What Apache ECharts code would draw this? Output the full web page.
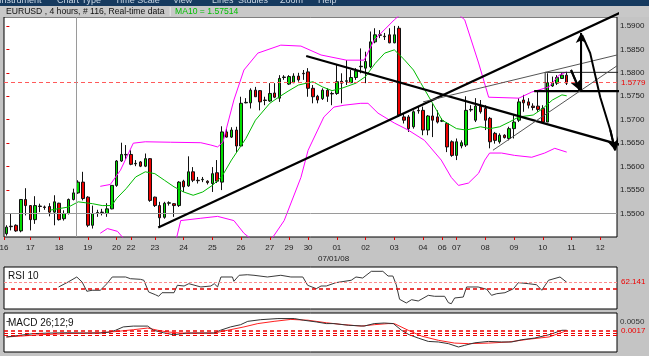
<!DOCTYPE html>
<html><head><meta charset="utf-8">
<script src="https://cdn.jsdelivr.net/npm/echarts@6/dist/echarts.min.js"></script>
<style>html,body{margin:0;padding:0;background:#c4c4c4;overflow:hidden}#c{width:649px;height:356px}</style>
</head><body><div id="c"></div>
<script>
// ---------------- DATA ----------------
const SLOTS = 128; // bar slots shown on the time axis (4-hour bars)
// [open, close, low, high]
const candles = [
[1.5457,1.5471,1.5453,1.5475],[1.5473,1.5472,1.5464,1.5500],[1.5475,1.5463,1.5461,1.5477],[1.5463,1.5530,1.5460,1.5531],
[1.5530,1.5517,1.5496,1.5554],[1.5517,1.5487,1.5464,1.5518],[1.5487,1.5517,1.5478,1.5537],[1.5516,1.5515,1.5503,1.5521],
[1.5514,1.5513,1.5508,1.5517],[1.5515,1.5503,1.5494,1.5522],[1.5503,1.5525,1.5475,1.5539],[1.5522,1.5487,1.5485,1.5523],
[1.5489,1.5500,1.5485,1.5507],[1.5500,1.5530,1.5498,1.5532],[1.5530,1.5544,1.5528,1.5553],[1.5544,1.5567,1.5542,1.5571],
[1.5567,1.5532,1.5528,1.5589],[1.5535,1.5475,1.5471,1.5537],[1.5475,1.5500,1.5468,1.5517],[1.5501,1.5502,1.5493,1.5508],
[1.5502,1.5503,1.5496,1.5510],[1.5500,1.5510,1.5493,1.5522],[1.5510,1.5560,1.5509,1.5560],[1.5560,1.5612,1.5557,1.5614],
[1.5612,1.5626,1.5610,1.5651],[1.5626,1.5625,1.5615,1.5646],[1.5626,1.5605,1.5603,1.5635],[1.5606,1.5607,1.5601,1.5614],
[1.5610,1.5601,1.5599,1.5612],[1.5601,1.5617,1.5599,1.5628],[1.5617,1.5528,1.5525,1.5618],[1.5535,1.5517,1.5514,1.5536],
[1.5517,1.5491,1.5471,1.5525],[1.5492,1.5522,1.5489,1.5525],[1.5522,1.5523,1.5517,1.5526],[1.5521,1.5517,1.5493,1.5522],
[1.5517,1.5567,1.5514,1.5569],[1.5569,1.5557,1.5546,1.5572],[1.5559,1.5589,1.5557,1.5622],[1.5589,1.5571,1.5567,1.5599],
[1.5571,1.5570,1.5564,1.5578],[1.5572,1.5573,1.5567,1.5578],[1.5569,1.5566,1.5562,1.5571],[1.5564,1.5585,1.5546,1.5599],
[1.5587,1.5569,1.5565,1.5614],[1.5567,1.5674,1.5550,1.5686],[1.5674,1.5663,1.5662,1.5681],[1.5663,1.5678,1.5661,1.5684],
[1.5678,1.5644,1.5631,1.5685],[1.5644,1.5735,1.5642,1.5749],[1.5736,1.5737,1.5735,1.5746],[1.5736,1.5763,1.5724,1.5767],
[1.5763,1.5749,1.5749,1.5770],[1.5762,1.5738,1.5720,1.5763],[1.5742,1.5741,1.5731,1.5749],[1.5740,1.5756,1.5738,1.5778],
[1.5757,1.5748,1.5746,1.5778],[1.5746,1.5788,1.5738,1.5795],[1.5790,1.5791,1.5785,1.5795],[1.5776,1.5792,1.5774,1.5795],
[1.5779,1.5793,1.5778,1.5799],[1.5793,1.5785,1.5781,1.5800],[1.5799,1.5798,1.5785,1.5806],[1.5802,1.5767,1.5749,1.5810],
[1.5767,1.5749,1.5735,1.5774],[1.5750,1.5742,1.5735,1.5753],[1.5745,1.5763,1.5742,1.5767],[1.5763,1.5750,1.5738,1.5767],
[1.5756,1.5755,1.5731,1.5760],[1.5756,1.5781,1.5753,1.5817],[1.5782,1.5778,1.5735,1.5799],[1.5782,1.5783,1.5774,1.5827],
[1.5779,1.5790,1.5778,1.5806],[1.5790,1.5804,1.5785,1.5810],[1.5813,1.5814,1.5799,1.5852],[1.5810,1.5824,1.5778,1.5845],
[1.5813,1.5866,1.5810,1.5888],[1.5866,1.5881,1.5863,1.5895],[1.5881,1.5880,1.5874,1.5891],[1.5878,1.5877,1.5870,1.5885],
[1.5881,1.5864,1.5863,1.5895],[1.5864,1.5881,1.5863,1.5900],[1.5895,1.5710,1.5706,1.5900],[1.5706,1.5699,1.5692,1.5713],
[1.5706,1.5681,1.5674,1.5710],[1.5685,1.5717,1.5681,1.5720],[1.5720,1.5719,1.5713,1.5728],[1.5720,1.5678,1.5667,1.5728],
[1.5678,1.5708,1.5667,1.5710],[1.5708,1.5699,1.5663,1.5735],[1.5706,1.5695,1.5692,1.5720],[1.5697,1.5698,1.5695,1.5703],
[1.5692,1.5642,1.5631,1.5695],[1.5653,1.5624,1.5621,1.5656],[1.5624,1.5653,1.5614,1.5660],[1.5644,1.5651,1.5639,1.5656],
[1.5646,1.5720,1.5642,1.5750],[1.5721,1.5722,1.5717,1.5731],[1.5699,1.5729,1.5695,1.5746],[1.5729,1.5717,1.5713,1.5742],
[1.5724,1.5699,1.5678,1.5731],[1.5703,1.5653,1.5639,1.5706],[1.5671,1.5656,1.5649,1.5674],[1.5653,1.5667,1.5649,1.5671],
[1.5667,1.5662,1.5660,1.5669],[1.5660,1.5681,1.5656,1.5685],[1.5681,1.5695,1.5660,1.5710],[1.5699,1.5738,1.5695,1.5746],
[1.5742,1.5736,1.5717,1.5753],[1.5738,1.5731,1.5724,1.5746],[1.5729,1.5726,1.5720,1.5735],[1.5729,1.5722,1.5717,1.5760],
[1.5724,1.5695,1.5695,1.5731],[1.5695,1.5779,1.5695,1.5799],[1.5772,1.5779,1.5770,1.5792],[1.5778,1.5790,1.5774,1.5795],
[1.5788,1.5795,1.5787,1.5800],[1.5795,1.5778,1.5774,1.5802]
];
// [bar, value]
const ma10 = [[9,1.5507],[13,1.5514],[15,1.5525],[18,1.5521],[20,1.5517],[22,1.5517],[23,1.5532],[25,1.5553],[27,1.5578],[29,1.5589],
[31,1.5585],[33,1.5571],[35,1.5557],[37,1.5546],[39,1.5539],[41,1.5546],[43,1.5560],[45,1.5579],[47,1.5614],[50,1.5660],[52,1.5699],
[55,1.5735],[57,1.5749],[59,1.5762],[61,1.5774],[64,1.5781],[66,1.5770],[68,1.5762],[70,1.5767],[73,1.5778],[75,1.5792],[77,1.5820],
[79,1.5842],[81,1.5849],[83,1.5829],[85,1.5806],[87,1.5770],[89,1.5735],[91,1.5699],[94,1.5681],[96,1.5678],[99,1.5685],[101,1.5681],
[103,1.5685],[105,1.5695],[107,1.5706],[110,1.5710],[112,1.5724],[114,1.5742],[116,1.5753],[117,1.5751]];
const bbUpper = [[19.6,1.5558],[21.7,1.5562],[23.8,1.5592],[26.5,1.5650],[29,1.5653],[34.3,1.5652],[40.6,1.5651],[42.7,1.5646],[44.1,1.5642],
[45.2,1.5652],[47.5,1.5742],[49.6,1.5806],[52.5,1.5842],[57.3,1.5859],[61.5,1.5857],[65.7,1.5838],[71,1.5827],[74.7,1.5827],[76.8,1.5870],
[81,1.5913],[84.6,1.5945],[90.8,1.5956],[95.7,1.5913],[98.6,1.5821],[100.7,1.5748],[107,1.5746],[109.7,1.5759],[113.3,1.5770],[115.4,1.5795],[117,1.5802]];
const bbLower = [[19.6,1.5458],[21.1,1.5468],[23.2,1.5462],[24.8,1.5443],[30,1.5432],[35.3,1.5438],[36.4,1.5485],[40.6,1.5490],[44.1,1.5494],
[47.5,1.5485],[49.6,1.5458],[52,1.5438],[55.2,1.5443],[58,1.5485],[61.5,1.5577],[63,1.5635],[65,1.5678],[66.3,1.5706],[68.4,1.5727],
[70.5,1.5731],[74,1.5735],[75.5,1.5735],[77.6,1.5714],[81,1.5693],[83.9,1.5678],[87.3,1.5656],[90.8,1.5614],[92.9,1.5577],[94.4,1.5560],
[96.5,1.5565],[98.6,1.5586],[99.9,1.5614],[100.9,1.5629],[103.4,1.5629],[106.1,1.5624],[109.7,1.5620],[112.4,1.5629],[114.5,1.5639],[117,1.5631]];
const rsi10 = [[10.9,53.8],[12.9,62.6],[14.7,71.4],[15.8,62.6],[16.8,46.2],[17.9,48],[19.6,48],[21,59.6],[22.1,71.4],[24.9,71.4],[25.9,68.4],
[28,67.3],[28.7,65.6],[29.7,45],[31.1,40.2],[31.8,37.4],[32.5,43.7],[35,43.7],[35.7,56.8],[37.1,55.5],[38.1,59.6],[40.6,53.8],[42.7,55.5],
[43.4,59.6],[44.1,53.8],[44.8,71.4],[47.2,71.4],[47.5,63.8],[48.6,74.4],[50.3,75.4],[51.7,74.4],[54.5,71.4],[57.3,74.4],[59.4,71.4],
[61.9,71.4],[62.9,56.8],[64.7,50.8],[65.7,55.5],[66.8,55.5],[68.8,61.4],[72,65.6],[73,71.4],[74.4,69.6],[76.2,81.4],[78.6,81.4],
[79.7,73.1],[80.7,73.1],[81.4,57.8],[82.1,32.1],[83.5,25.6],[84.6,31.4],[86,29.1],[88.1,39.1],[89.4,37.4],[91.5,37.4],[92.3,26.1],
[92.9,24.3],[93.6,34.4],[95.4,36.1],[96.1,53.8],[98.5,53.8],[100.3,49.7],[101.3,39.1],[102.4,42],[104.1,43.7],[105.9,50.8],[106.9,61.4],
[109,59.6],[110.7,57.8],[111.8,48],[113.2,65.6],[115.6,71.4],[117,62.1]];
const macdLine = [[0,-0.0006],[2.9,0.0000],[5.6,0.0006],[9.1,0.0008],[12.7,0.0009],[16.1,0.0008],[19.6,0.0008],[21.7,0.0012],[22.8,0.0018],
[24.4,0.0030],[26.5,0.0033],[29.5,0.0033],[30.7,0.0018],[32.8,0.0009],[34.9,0.0002],[37.8,0.0008],[43.3,0.0008],[44.7,0.0018],[46.8,0.0030],
[48.9,0.0038],[50.4,0.0050],[53.1,0.0056],[56.7,0.0060],[60.1,0.0060],[62.1,0.0054],[64.7,0.0048],[66.8,0.0042],[68.4,0.0042],[71.4,0.0036],
[74.7,0.0033],[76.8,0.0042],[78.9,0.0044],[80.8,0.0042],[82.5,0.0018],[84.1,0.0002],[86,-0.0010],[88.1,-0.0022],[90.2,-0.0024],[92.3,-0.0030],
[94.4,-0.0042],[95.7,-0.0036],[97.8,-0.0027],[100.7,-0.0022],[103.4,-0.0024],[105.5,-0.0024],[107.6,-0.0016],[110.3,-0.0010],[113.3,0.0002],
[114.5,0.0009],[116,0.0018],[117,0.0018]];
const macdSignal = [[0,-0.0006],[2.9,-0.0003],[7,0.0002],[12.7,0.0006],[16.9,0.0008],[19.6,0.0009],[23.2,0.0014],[26.5,0.0020],[29.5,0.0026],
[31.6,0.0018],[33.6,0.0012],[36.4,0.0008],[43.3,0.0008],[46.2,0.0018],[49.6,0.0030],[52.5,0.0042],[55.9,0.0050],[59.4,0.0057],[63,0.0054],
[66.8,0.0045],[69.9,0.0039],[74.1,0.0033],[76.8,0.0038],[79.7,0.0042],[81,0.0042],[83.9,0.0018],[86.7,-0.0003],[90.2,-0.0018],[93.6,-0.0028],
[96.5,-0.0030],[100.7,-0.0028],[104.9,-0.0024],[109.1,-0.0014],[113.3,-0.0006],[116.6,0.0014]];
// time axis
const dayLabels = ['16','17','18','19','20','22','23','24','25','26','27','29','30','01','02','03','04','06','07','08','09','10','11','12'];
const dayStart  = [-0.5,5,11,17,23,26,31,37,43,49,55,59,63,69,75,81,87,91,94,100,106,112,118,124];
const monthLabel = '07/01/08';
const priceTicks = [1.55,1.555,1.56,1.565,1.57,1.575,1.58,1.585,1.59];
const macdTicks = [0.005];
const lastPrice = 1.5779;
const rsiLast = 62.141, rsiMid = 50;
const macdLevels = [0.0017, 0.0008, 0];
const cursorBar = 14.6, cursorPrice = 1.5500;
const titleText = 'EURUSD , 4 hours, # 116, Real-time data';
const maText = 'MA10 = 1.57514';
const menuItems = ['Instrument','Chart Type','Time Scale','View','Lines','Studies','Zoom','Help'];
// hand-drawn studies [bar, price]
const riseLine   = [[31.7,1.5470],[134.0,1.5956]];
const fallLine   = [[62.6,1.5836],[134.2,1.5629]];
const supportLine= [[110.2,1.5761],[134.2,1.5761]];
const boxTop     = [[112.5,1.5801],[129.2,1.5801]];
const boxSide    = [[112.5,1.5801],[112.5,1.5761]];
const wedgeUpper = [[87,1.5738],[127.5,1.5838]];
const wedgeLower = [[101.6,1.5635],[127.5,1.5815]];
const arrowUp    = [[120.0,1.5761],[120.0,1.5885]];
const arrowPull  = [[117.9,1.5806],[119.7,1.5763]];
const pathDown   = [[120.2,1.5881],[121.9,1.5842],[124,1.5748],[126.1,1.5678],[127.1,1.5635]];
const pathUp     = [[127.1,1.5635],[132.9,1.5853]];

// ---------------- CHART ----------------
const F = 'Liberation Sans';
const cats = Array.from({length: SLOTS}, (_, i) => String(i));
const chart = echarts.init(document.getElementById('c'), null, {renderer: 'canvas'});
const gridBase = {left: 4, width: 613, show: true, backgroundColor: '#fff', borderColor: '#000', borderWidth: 1, outerBoundsMode: 'none', containLabel: false};
const hiddenX = gi => ({type: 'value', gridIndex: gi, min: -0.5, max: SLOTS - 0.5, show: false});

function drawLine(pts, width, color, arrow) {
  const s = {type: 'line', xAxisIndex: 1, yAxisIndex: 0, data: pts, symbol: 'none', clip: false, z: 6, silent: true,
    lineStyle: {color: color, width: width}, animation: false};
  if (arrow) {
    const n = pts.length;
    s.markLine = {symbol: ['none', 'arrow'], symbolSize: [8, 10], silent: true, animation: false, precision: 6,
      lineStyle: {color: color, width: width, type: 'solid'}, label: {show: false},
      data: [[{coord: pts[n - 2]}, {coord: pts[n - 1]}]]};
  }
  return s;
}

const menuX = [-1, 57, 115, 173, 212, 238, 280, 318];
const graphic = [
  {type: 'rect', z: 0, shape: {x: 0, y: 0, width: 649, height: 6}, style: {fill: '#163a5f'}},
  {type: 'rect', z: 0, shape: {x: 0, y: 6, width: 649, height: 11}, style: {fill: '#c8c8c8'}},
  ...menuItems.map((t, i) => ({type: 'text', z: 100, x: menuX[i], y: 1, style: {text: t, fill: '#c9d6e4', font: '9px ' + F, textVerticalAlign: 'middle'}})),
  {type: 'text', z: 100, x: 6, y: 11.5, style: {text: titleText, fill: '#111', font: '8.6px ' + F, textVerticalAlign: 'middle'}},
  {type: 'text', z: 100, x: 169, y: 11.5, style: {text: '|', fill: '#eeeeee', font: '9px ' + F, textVerticalAlign: 'middle'}},
  {type: 'text', z: 100, x: 175, y: 11.5, style: {text: maText, fill: '#00c000', font: '8.6px ' + F, textVerticalAlign: 'middle'}},
  {type: 'text', z: 100, x: 318, y: 259, style: {text: monthLabel, fill: '#222', font: '8px ' + F, textVerticalAlign: 'middle'}},
  {type: 'text', z: 100, x: 8, y: 276, style: {text: 'RSI 10', fill: '#111', font: '10px ' + F, textVerticalAlign: 'middle'}},
  {type: 'text', z: 100, x: 8, y: 323, style: {text: 'MACD 26;12;9', fill: '#111', font: '10px ' + F, textVerticalAlign: 'middle'}}
];

const option = {
  animation: false,
  backgroundColor: '#c4c4c4',
  textStyle: {fontFamily: F},
  graphic: graphic,
  grid: [
    Object.assign({}, gridBase, {top: 17, height: 220}),
    Object.assign({}, gridBase, {top: 267, height: 42}),
    Object.assign({}, gridBase, {top: 313, height: 39})
  ],
  xAxis: [
    {type: 'category', gridIndex: 0, data: cats, boundaryGap: true, show: false},
    {type: 'value', gridIndex: 0, min: -0.5, max: SLOTS - 0.5, position: 'bottom',
      axisLine: {show: false}, splitLine: {show: false},
      axisTick: {show: true, customValues: dayStart, length: 3, lineStyle: {color: '#e00000'}},
      axisLabel: {show: true, customValues: dayStart, formatter: v => dayLabels[dayStart.indexOf(v)] || '',
        fontSize: 8, color: '#222', margin: 7, fontFamily: F}},
    hiddenX(1), hiddenX(2)
  ],
  yAxis: [
    {type: 'value', gridIndex: 0, position: 'right', min: 1.545, max: 1.5919, scale: true,
      axisLine: {show: false}, splitLine: {show: false},
      axisTick: {show: true, customValues: priceTicks, length: 3, lineStyle: {color: '#e00000'}},
      axisLabel: {show: true, customValues: priceTicks, formatter: v => v.toFixed(4), fontSize: 8, color: '#222', margin: 3, fontFamily: F}},
    {type: 'value', gridIndex: 1, min: 15, max: 89, show: false},
    {type: 'value', gridIndex: 2, position: 'right', min: -0.006, max: 0.008,
      axisLine: {show: false}, splitLine: {show: false},
      axisTick: {show: true, customValues: macdTicks, length: 3, lineStyle: {color: '#444'}},
      axisLabel: {show: true, customValues: macdTicks, formatter: v => v.toFixed(4), fontSize: 8, color: '#333', margin: 3, fontFamily: F}}
  ],
  series: [
    {type: 'candlestick', xAxisIndex: 0, yAxisIndex: 0, data: candles, barWidth: 3, z: 3,
      itemStyle: {color: '#00dd00', color0: '#ee0000', borderColor: '#111', borderColor0: '#111', borderWidth: 1},
      markLine: {symbol: 'none', silent: true, animation: false, precision: 6,
        data: [{yAxis: lastPrice}],
        lineStyle: {color: '#ff5a5a', type: [4, 3], width: 1},
        label: {show: true, position: 'end', formatter: lastPrice.toFixed(4), color: '#ee0000', fontSize: 8, distance: 4, fontFamily: F}}},
    {type: 'line', xAxisIndex: 1, yAxisIndex: 0, data: ma10, symbol: 'none', z: 4,
      lineStyle: {color: '#00bb00', width: 1},
      markLine: {symbol: 'none', silent: true, animation: false, label: {show: false}, precision: 6,
        lineStyle: {color: '#9a9a9a', type: 'solid', width: 1},
        data: [{xAxis: cursorBar}, {yAxis: cursorPrice}]}},
    {type: 'line', xAxisIndex: 1, yAxisIndex: 0, data: bbUpper, symbol: 'none', z: 4, lineStyle: {color: '#ff00ff', width: 1}},
    {type: 'line', xAxisIndex: 1, yAxisIndex: 0, data: bbLower, symbol: 'none', z: 4, lineStyle: {color: '#ff00ff', width: 1}},
    drawLine(riseLine, 2.2, '#000'),
    drawLine(fallLine, 2.2, '#000'),
    drawLine(supportLine, 2.2, '#000'),
    drawLine(boxTop, 1, '#222'),
    drawLine(boxSide, 1, '#222'),
    drawLine(wedgeUpper, 1, '#555'),
    drawLine(wedgeLower, 1, '#555'),
    drawLine(arrowUp, 2, '#000', true),
    drawLine(arrowPull, 2, '#000', true),
    drawLine(pathDown, 2, '#000', true),
    drawLine(pathUp, 2, '#000'),
    {type: 'line', xAxisIndex: 2, yAxisIndex: 1, data: rsi10, symbol: 'none', lineStyle: {color: '#3a3a3a', width: 1},
      markLine: {symbol: 'none', silent: true, animation: false, precision: 6,
        data: [
          {yAxis: rsiLast, lineStyle: {color: '#ff8c8c', type: [3, 2], width: 1},
            label: {show: true, position: 'end', formatter: rsiLast.toFixed(3), color: '#ee0000', fontSize: 8, distance: 4, fontFamily: F}},
          {yAxis: rsiMid, lineStyle: {color: '#e00000', type: [4, 3], width: 1.5}, label: {show: false}}
        ]}},
    {type: 'line', xAxisIndex: 3, yAxisIndex: 2, data: macdLine, symbol: 'none', z: 4, lineStyle: {color: '#333', width: 1}},
    {type: 'line', xAxisIndex: 3, yAxisIndex: 2, data: macdSignal, symbol: 'none', z: 3, lineStyle: {color: '#ff2020', width: 1},
      markLine: {symbol: 'none', silent: true, animation: false, precision: 6,
        data: macdLevels.map((v, i) => ({yAxis: v,
          lineStyle: {color: '#ee0000', type: [4, 3], width: i === 0 ? 1.5 : 1},
          label: {show: i === 0, position: 'end', formatter: v.toFixed(4), color: '#ee0000', fontSize: 8, distance: 4, fontFamily: F}}))}}
  ]
};
chart.setOption(option);
</script>
</body></html>
